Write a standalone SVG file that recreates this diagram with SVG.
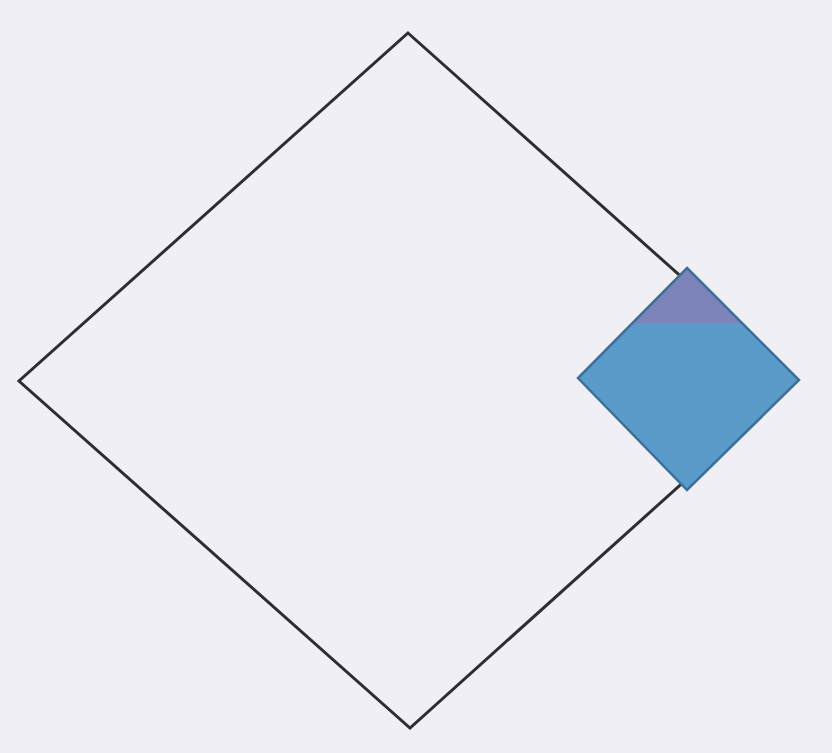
<svg xmlns="http://www.w3.org/2000/svg" width="832" height="753" viewBox="0 0 832 753">
<defs>
<clipPath id="top"><rect x="0" y="0" width="832" height="323"/></clipPath>
</defs>
<rect width="832" height="753" fill="#efeff5"/>
<g id="big">
<polygon points="408,33 797,380 410,728 19,381" fill="none" stroke="#2e2e2e" stroke-width="3" stroke-linejoin="miter"/>
</g>
<g id="small">
<polygon points="687,268 799,380 687,490 578,378" fill="#5a9bc9"/>
<polygon points="687,268 799,380 687,490 578,378" fill="#7d84b9" clip-path="url(#top)"/>
<polygon points="687,268 799,380 687,490 578,378" fill="none" stroke="#3d6f99" stroke-width="2.5"/>
</g>
</svg>
